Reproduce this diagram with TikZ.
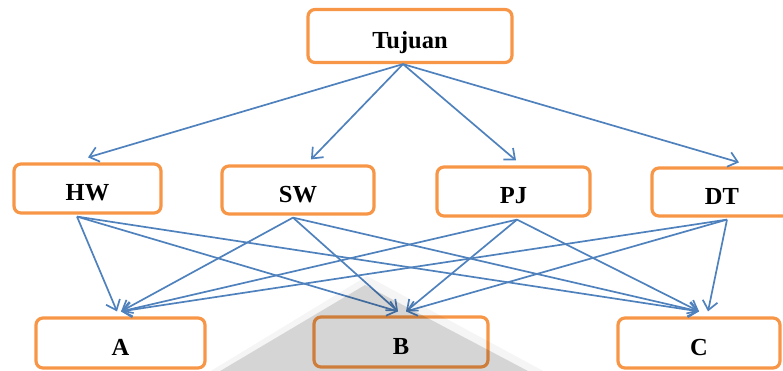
\documentclass[tikz,border=0pt]{standalone}
\usepackage{fontspec}
\setmainfont{Liberation Serif}
\usetikzlibrary{arrows.meta}
\definecolor{boxorange}{HTML}{F79646}
\definecolor{linkblue}{HTML}{4F81BD}

\begin{document}
\begin{tikzpicture}[x=1pt,y=-1pt,
  box/.style={draw=boxorange, line width=3.2pt, rounded corners=7pt,
    inner sep=0pt, font=\fontsize{24.5}{26}\selectfont\bfseries,
    text height=24pt, text depth=0pt},
  link/.style={draw=linkblue, line width=1.7pt,
    -{Straight Barb[length=9pt,width=15pt,line width=1.7pt]}},
  shade/.style={fill=black, draw=none}
]
\useasboundingbox (0,0) rectangle (783,370);

% boxes
\node[box, minimum width=204pt, minimum height=53pt] (tuj) at (410,36) {Tujuan};

\node[box, minimum width=147pt, minimum height=49pt] (hw) at (87.5,188.5) {HW};
\node[box, minimum width=152pt, minimum height=48pt] (sw) at (298,190) {SW};
\node[box, minimum width=153pt, minimum height=49pt] (pj) at (513.5,191.5) {PJ};
\node[box, minimum width=140pt, minimum height=48pt] (dt) at (722,192) {DT};

\node[box, minimum width=169pt, minimum height=50pt] (a) at (120.5,343) {A};
\node[box, minimum width=174pt, minimum height=50pt] (b) at (401,342) {B};
\node[box, minimum width=162pt, minimum height=50pt] (c) at (699,343) {C};

% connector end points
\coordinate (tujOut) at ([xshift=-7pt]tuj.south);
\coordinate (hwIn) at ([xshift=0.5pt,yshift=5pt]hw.north);
\coordinate (swIn) at ([xshift=13pt,yshift=5pt]sw.north);
\coordinate (pjIn) at ([xshift=2.5pt,yshift=5pt]pj.north);
\coordinate (dtIn) at ([xshift=17pt,yshift=4pt]dt.north);

\coordinate (hwOut) at ([xshift=-10.5pt,yshift=-2pt]hw.south);
\coordinate (swOut) at ([xshift=-5pt,yshift=-2pt]sw.south);
\coordinate (pjOut) at ([xshift=3.5pt,yshift=-2pt]pj.south);
\coordinate (dtOut) at ([xshift=5pt,yshift=-2pt]dt.south);

\coordinate (aInL) at ([xshift=-3.5pt,yshift=5pt]a.north);
\coordinate (aInR) at ([xshift=0.5pt,yshift=5pt]a.north);
\coordinate (bInL) at ([xshift=-3pt,yshift=4pt]b.north);
\coordinate (bInR) at ([xshift=5pt,yshift=4pt]b.north);
\coordinate (cInL) at ([xshift=0pt,yshift=5pt]c.north);
\coordinate (cInR) at ([xshift=9pt,yshift=5pt]c.north);

% goal to criteria
\draw[link] (tujOut) -- (hwIn);
\draw[link] (tujOut) -- (swIn);
\draw[link] (tujOut) -- (pjIn);
\draw[link] (tujOut) -- (dtIn);

% criteria to alternatives
\draw[link] (hwOut) -- (aInL);
\draw[link] (hwOut) -- (bInL);
\draw[link] (hwOut) -- (cInL);
\draw[link] (swOut) -- (aInR);
\draw[link] (swOut) -- (bInL);
\draw[link] (swOut) -- (cInL);
\draw[link] (pjOut) -- (aInR);
\draw[link] (pjOut) -- (bInR);
\draw[link] (pjOut) -- (cInL);
\draw[link] (dtOut) -- (aInR);
\draw[link] (dtOut) -- (bInR);
\draw[link] (dtOut) -- (cInR);

% faint grey backdrop shape at the bottom
\fill[shade, opacity=0.04] (196,380) -- (367,276) -- (560,380) -- cycle;
\fill[shade, opacity=0.13] (205,380) -- (365,285) -- (545,380) -- cycle;
\end{tikzpicture}
\end{document}
